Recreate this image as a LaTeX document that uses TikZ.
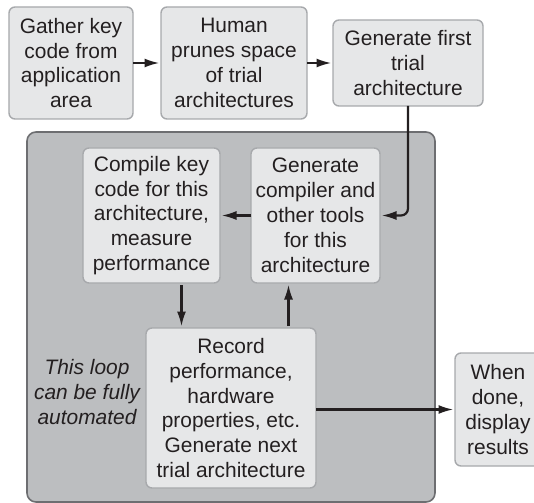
\documentclass[tikz,border=0pt]{standalone}
\usepackage{fontspec}
\setmainfont{Liberation Sans}
\usetikzlibrary{arrows.meta,positioning}
\definecolor{boxfill}{HTML}{E6E7E8}
\definecolor{boxline}{HTML}{A7A9AC}
\definecolor{loopfill}{HTML}{BCBEC0}
\definecolor{loopline}{HTML}{6D6E71}
\definecolor{inkdark}{HTML}{231F20}

\begin{document}
\begin{tikzpicture}[
  x=1bp, y=-1bp,
  font=\fontsize{21}{25}\selectfont,
  >={Latex[length=15bp, width=9bp]},
  box/.style={draw=boxline, line width=1.4bp, fill=boxfill, rounded corners=6bp,
    align=center, inner sep=0pt, outer sep=0pt, text=inkdark},
  loopbox/.style={draw=loopline, line width=1.6bp, fill=loopfill, rounded corners=9bp,
    inner sep=0pt, outer sep=0pt},
  arrow/.style={->, line width=2.2bp, draw=inkdark, shorten >=1.5bp}
]
  \useasboundingbox (0,0) rectangle (534,503);

  % the automated loop
  \node[loopbox, minimum width=408bp, minimum height=370bp] (loop) at (231,317) {};

  \node[box, minimum width=124bp, minimum height=112bp] (gather) at (71,63)
    {Gather key\\code from\\application\\area};
  \node[box, minimum width=146bp, minimum height=112bp, right=28bp of gather] (prune)
    {Human\\prunes space\\of trial\\architectures};
  \node[box, minimum width=150bp, minimum height=86bp, right=26bp of prune] (first)
    {Generate first\\trial\\architecture};

  \node[box, minimum width=137bp, minimum height=135bp] (comp) at (151.5,215.5)
    {Compile key\\code for this\\architecture,\\measure\\performance};
  \node[box, minimum width=129bp, minimum height=135bp, right=31bp of comp] (tools)
    {Generate\\compiler and\\other tools\\for this\\architecture};
  \node[box, minimum width=170bp, minimum height=160bp] (rec) at (231,408)
    {Record\\performance,\\hardware\\properties, etc.\\Generate next\\trial architecture};
  \node[box, minimum width=86bp, minimum height=113bp] (done) at (498,409.5)
    {When\\done,\\display\\results};

  \node[align=center, font=\fontsize{21}{25}\selectfont\itshape, text=inkdark] (note)
    at (87,392) {This loop\\can be fully\\automated};

  \draw[arrow] (gather) -- (prune);
  \draw[arrow] (prune) -- (first);
  \draw[arrow, rounded corners=7bp] (first.south) |- (tools.east);
  \draw[arrow] (tools) -- (comp);
  \draw[arrow, shorten <=2bp] ([xshift=30bp]comp.south) -- ([xshift=30bp]comp.south |- rec.north);
  \draw[arrow, shorten <=2bp] ([xshift=-27bp]tools.south |- rec.north) -- ([xshift=-27bp]tools.south);
  \draw[arrow] (rec.east |- done.west) -- (done.west);
\end{tikzpicture}
\end{document}
